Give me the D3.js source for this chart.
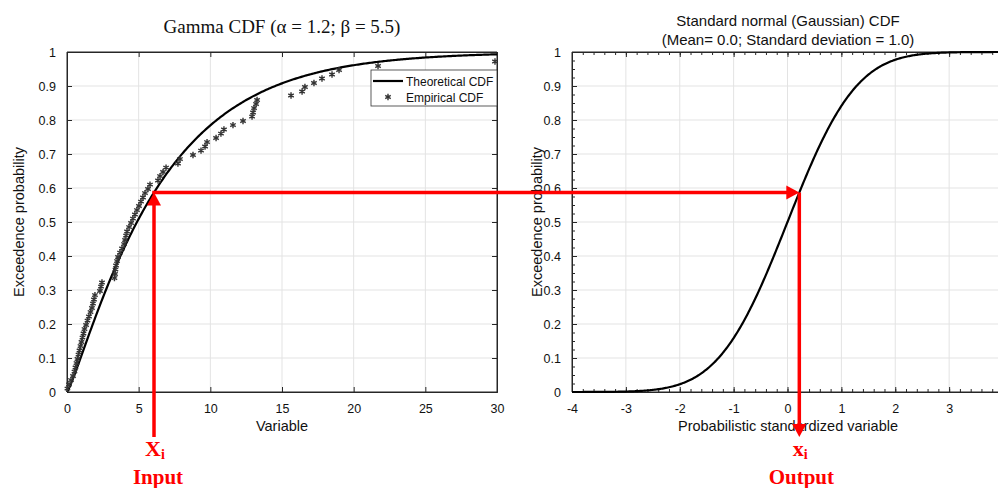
<!DOCTYPE html>
<html>
<head>
<meta charset="utf-8">
<script src="https://cdn.jsdelivr.net/npm/d3@7"></script>
<style>
  html, body { margin: 0; padding: 0; background: #fff; }
  svg { display: block; font-family: "Liberation Sans", Arial, sans-serif; }
</style>
</head>
<body>
<svg id="chart" width="998" height="488"></svg>
<script>
// Distribution parameters shown in the titles
const gammaAlpha = 1.2;
const gammaBeta = 5.5;
const normalMean = 0.0;
const normalSd = 1.0;

// Sample (empirical CDF) values: variable and plotting probability
const empiricalX = [
  0.03, 0.14, 0.28, 0.42, 0.52, 0.59, 0.66, 0.73, 0.80, 0.87,
  0.94, 1.01, 1.08, 1.15, 1.22, 1.33, 1.43, 1.53, 1.64, 1.74,
  1.81, 1.88, 1.95, 2.30, 2.37, 2.44, 3.31, 3.35, 3.38, 3.42,
  3.49, 3.56, 3.70, 3.84, 3.98, 4.05, 4.12, 4.19, 4.33, 4.47,
  4.60, 4.74, 4.88, 5.02, 5.16, 5.30, 5.44, 5.65, 5.79, 6.35,
  6.49, 6.70, 6.91, 7.74, 7.88, 8.79, 9.35, 9.63, 9.77, 10.40,
  10.74, 10.95, 11.58, 12.28, 12.91, 12.98, 13.05, 13.19, 13.26, 15.63,
  16.40, 16.60, 17.23, 17.79, 18.49, 18.98, 21.70, 29.86
];
const empiricalP = [
  0.010, 0.022, 0.035, 0.047, 0.060, 0.072, 0.085, 0.097, 0.110, 0.122,
  0.135, 0.147, 0.160, 0.172, 0.185, 0.197, 0.210, 0.222, 0.235, 0.247,
  0.260, 0.272, 0.285, 0.297, 0.310, 0.322, 0.335, 0.347, 0.360, 0.372,
  0.385, 0.397, 0.410, 0.422, 0.435, 0.447, 0.460, 0.472, 0.485, 0.497,
  0.510, 0.522, 0.535, 0.547, 0.560, 0.572, 0.585, 0.597, 0.610, 0.622,
  0.635, 0.647, 0.660, 0.672, 0.685, 0.697, 0.710, 0.722, 0.735, 0.747,
  0.760, 0.772, 0.785, 0.797, 0.810, 0.822, 0.835, 0.847, 0.859, 0.872,
  0.884, 0.897, 0.909, 0.922, 0.934, 0.947, 0.959, 0.972
];

// Tick values and labels
const gammaXTicks = [0, 5, 10, 15, 20, 25, 30];
const normalXTicks = [-4, -3, -2, -1, 0, 1, 2, 3, 4];
const normalXLabels = ["-4", "-3", "-2", "-1", "0", "1", "2", "3", ""];
const probTicks = [0, 0.1, 0.2, 0.3, 0.4, 0.5, 0.6, 0.7, 0.8, 0.9, 1];
const probLabels = ["0", "0.1", "0.2", "0.3", "0.4", "0.5", "0.6", "0.7", "0.8", "0.9", "1"];

// Transformation example: input value on the gamma variable
const inputValue = 6.07;

// ---- distribution functions ----
function logGamma(z) {
  const g = 7;
  const c = [0.99999999999980993, 676.5203681218851, -1259.1392167224028,
    771.32342877765313, -176.61502916214059, 12.507343278686905,
    -0.13857109526572012, 9.9843695780195716e-6, 1.5056327351493116e-7];
  z -= 1;
  let x = c[0];
  for (let i = 1; i < g + 2; i++) x += c[i] / (z + i);
  const t = z + g + 0.5;
  return 0.5 * Math.log(2 * Math.PI) + (z + 0.5) * Math.log(t) - t + Math.log(x);
}
function gammaCdf(x, a, b) {
  if (x <= 0) return 0;
  const u = x / b;
  let term = 1 / a, sum = term;
  for (let n = 1; n < 500; n++) {
    term *= u / (a + n);
    sum += term;
    if (term < sum * 1e-12) break;
  }
  return Math.min(1, sum * Math.exp(-u + a * Math.log(u) - logGamma(a)));
}
function erf(x) {
  const s = Math.sign(x); x = Math.abs(x);
  const t = 1 / (1 + 0.3275911 * x);
  const y = 1 - (((((1.061405429 * t - 1.453152027) * t) + 1.421413741) * t - 0.284496736) * t + 0.254829592) * t * Math.exp(-x * x);
  return s * y;
}
function normalCdf(z) {
  return 0.5 * (1 + erf((z - normalMean) / (normalSd * Math.SQRT2)));
}
function normalInv(p) {
  let lo = -10, hi = 10;
  for (let i = 0; i < 80; i++) {
    const mid = (lo + hi) / 2;
    if (normalCdf(mid) < p) lo = mid; else hi = mid;
  }
  return (lo + hi) / 2;
}

// ---- layout ----
const svg = d3.select("#chart");
const axisColor = "#262626";
const gridColor = "#e3e3e3";
const red = "#ff0000";

const L = { left: 67, right: 497, top: 52, bottom: 392 };
const R = { left: 572, right: 1003, top: 52, bottom: 392 };

const xG = d3.scaleLinear().domain([0, 30]).range([L.left, L.right]);
const yG = d3.scaleLinear().domain([0, 1]).range([L.bottom, L.top]);
const xN = d3.scaleLinear().domain([-4, 4]).range([R.left, R.right]);
const yN = d3.scaleLinear().domain([0, 1]).range([R.bottom, R.top]);

const fmtP = (d, i) => probLabels[i];

function panel(box, xs, ys, xTicks, xFmt, minor) {
  const g = svg.append("g");
  // grid
  g.append("g").selectAll("line").data(xTicks.filter(v => xs(v) > box.left && xs(v) < box.right))
    .join("line").attr("x1", d => xs(d)).attr("x2", d => xs(d))
    .attr("y1", box.top).attr("y2", box.bottom)
    .attr("stroke", gridColor).attr("stroke-width", 1);
  g.append("g").selectAll("line").data(probTicks.filter(v => v > 0 && v < 1))
    .join("line").attr("x1", box.left).attr("x2", box.right)
    .attr("y1", d => ys(d)).attr("y2", d => ys(d))
    .attr("stroke", gridColor).attr("stroke-width", 1);

  // axes with inward ticks on every side
  const tl = -5;
  g.append("g").attr("transform", `translate(0,${box.bottom})`)
    .call(d3.axisBottom(xs).tickValues(xTicks).tickSize(tl).tickPadding(12).tickFormat(xFmt));
  g.append("g").attr("transform", `translate(0,${box.top})`)
    .call(d3.axisTop(xs).tickValues(xTicks).tickSize(tl).tickFormat(""));
  g.append("g").attr("transform", `translate(${box.left},0)`)
    .call(d3.axisLeft(ys).tickValues(probTicks).tickSize(tl).tickPadding(11).tickFormat(fmtP));
  g.append("g").attr("transform", `translate(${box.right},0)`)
    .call(d3.axisRight(ys).tickValues(probTicks).tickSize(tl).tickFormat(""));

  if (minor) {
    const mx = d3.range(-4, 4.001, 0.2).map(v => Math.round(v * 10) / 10);
    const my = d3.range(0, 1.0001, 0.025);
    g.append("g").attr("transform", `translate(0,${box.bottom})`)
      .call(d3.axisBottom(xs).tickValues(mx).tickSize(-3).tickFormat(""));
    g.append("g").attr("transform", `translate(0,${box.top})`)
      .call(d3.axisTop(xs).tickValues(mx).tickSize(-3).tickFormat(""));
    g.append("g").attr("transform", `translate(${box.left},0)`)
      .call(d3.axisLeft(ys).tickValues(my).tickSize(-3).tickFormat(""));
  }

  g.selectAll(".domain").attr("stroke", axisColor).attr("stroke-width", 1);
  g.selectAll(".tick line").attr("stroke", axisColor);
  g.selectAll(".tick text").attr("fill", "#111").style("font-size", "12.5px")
    .style("font-family", "'Liberation Sans', Arial, sans-serif");
  // close the frame
  g.append("path")
    .attr("d", `M${box.left},${box.top}H${box.right}V${box.bottom}H${box.left}Z`)
    .attr("fill", "none").attr("stroke", axisColor).attr("stroke-width", 1);
  return g;
}

panel(L, xG, yG, gammaXTicks, d => String(d), false);
panel(R, xN, yN, normalXTicks, (d, i) => normalXLabels[i], true);

// ---- left: gamma CDF ----
const gammaLine = d3.line().x(d => xG(d)).y(d => yG(gammaCdf(d, gammaAlpha, gammaBeta)));
svg.append("path")
  .datum(d3.range(0, 30.0001, 0.1))
  .attr("d", gammaLine)
  .attr("fill", "none").attr("stroke", "#000").attr("stroke-width", 2.2);

const star = d3.symbol().type(d3.symbolAsterisk).size(28);
svg.append("g").selectAll("path")
  .data(empiricalX.map((x, i) => ({ x, p: empiricalP[i] })))
  .join("path")
  .attr("d", star)
  .attr("transform", d => `translate(${xG(d.x)},${yG(d.p)})`)
  .attr("fill", "none").attr("stroke", "#333").attr("stroke-width", 1.4);

// legend
const lg = svg.append("g");
lg.append("rect").attr("x", 371).attr("y", 70).attr("width", 126).attr("height", 36)
  .attr("fill", "#fff").attr("stroke", "#333").attr("stroke-width", 0.8);
lg.append("line").attr("x1", 373).attr("x2", 403).attr("y1", 81).attr("y2", 81)
  .attr("stroke", "#000").attr("stroke-width", 2.2);
lg.append("path").attr("d", star).attr("transform", "translate(388,97)")
  .attr("fill", "none").attr("stroke", "#333").attr("stroke-width", 1.4);
lg.append("text").attr("x", 406).attr("y", 85.5).text("Theoretical CDF")
  .style("font-size", "12px").attr("fill", "#111");
lg.append("text").attr("x", 406).attr("y", 101.5).text("Empirical CDF")
  .style("font-size", "12px").attr("fill", "#111");

// ---- right: standard normal CDF ----
const normLine = d3.line().x(d => xN(d)).y(d => yN(normalCdf(d)));
svg.append("path")
  .datum(d3.range(-4, 4.0001, 0.02))
  .attr("d", normLine)
  .attr("fill", "none").attr("stroke", "#000").attr("stroke-width", 2.2);

// ---- titles and axis labels ----
svg.append("text").attr("x", (L.left + L.right) / 2).attr("y", 33)
  .attr("text-anchor", "middle")
  .style("font-family", "'Liberation Serif', 'Times New Roman', serif").style("font-size", "19px")
  .attr("fill", "#111").text("Gamma CDF (α = 1.2; β = 5.5)");
svg.append("text").attr("x", 788).attr("y", 26).attr("text-anchor", "middle")
  .style("font-size", "15px").attr("fill", "#111").text("Standard normal (Gaussian) CDF");
svg.append("text").attr("x", 788).attr("y", 45).attr("text-anchor", "middle")
  .style("font-size", "15px").attr("fill", "#111").text("(Mean= 0.0; Standard deviation = 1.0)");

svg.append("text").attr("x", (L.left + L.right) / 2).attr("y", 431).attr("text-anchor", "middle")
  .style("font-size", "14.5px").attr("fill", "#111").text("Variable");
svg.append("text").attr("x", 788).attr("y", 431).attr("text-anchor", "middle")
  .style("font-size", "14.5px").attr("fill", "#111").text("Probabilistic standardized variable");
svg.append("text").attr("transform", `translate(24,${(L.top + L.bottom) / 2}) rotate(-90)`)
  .attr("text-anchor", "middle").style("font-size", "14.5px").attr("fill", "#111")
  .text("Exceedence probability");
svg.append("text").attr("transform", `translate(542,${(R.top + R.bottom) / 2}) rotate(-90)`)
  .attr("text-anchor", "middle").style("font-size", "14.5px").attr("fill", "#111")
  .text("Exceedence probability");

// ---- transformation arrows ----
const prob = gammaCdf(inputValue, gammaAlpha, gammaBeta);
const outputValue = normalInv(prob);
const ax = xG(inputValue), ay = yG(prob), bx = xN(outputValue);
const arrowBase = 437, head = 13, half = 7;
const ar = svg.append("g");
ar.append("line").attr("x1", ax).attr("x2", ax).attr("y1", arrowBase).attr("y2", ay + head - 1)
  .attr("stroke", red).attr("stroke-width", 3.5);
ar.append("path").attr("d", `M${ax},${ay}L${ax - half},${ay + head}L${ax + half},${ay + head}Z`).attr("fill", red);
ar.append("line").attr("x1", ax - 1.75).attr("x2", bx - head + 1).attr("y1", ay).attr("y2", ay)
  .attr("stroke", red).attr("stroke-width", 3.5);
ar.append("path").attr("d", `M${bx},${ay}L${bx - head},${ay - half}L${bx - head},${ay + half}Z`).attr("fill", red);
ar.append("line").attr("x1", bx).attr("x2", bx).attr("y1", ay).attr("y2", arrowBase - head + 1)
  .attr("stroke", red).attr("stroke-width", 3.5);
ar.append("path").attr("d", `M${bx},${arrowBase}L${bx - half},${arrowBase - head}L${bx + half},${arrowBase - head}Z`).attr("fill", red);

const serif = "'Liberation Serif', 'Times New Roman', serif";
const lab1 = svg.append("text").attr("x", ax + 1).attr("y", 456).attr("text-anchor", "middle")
  .style("font-family", serif).style("font-weight", "bold").style("font-size", "22px").attr("fill", red);
lab1.append("tspan").text("X");
lab1.append("tspan").attr("dy", 3).style("font-size", "14px").text("i");
svg.append("text").attr("x", ax + 4).attr("y", 484).attr("text-anchor", "middle")
  .style("font-family", serif).style("font-weight", "bold").style("font-size", "21px").attr("fill", red)
  .text("Input");
const lab2 = svg.append("text").attr("x", bx + 1).attr("y", 456).attr("text-anchor", "middle")
  .style("font-family", serif).style("font-weight", "bold").style("font-size", "22px").attr("fill", red);
lab2.append("tspan").text("x");
lab2.append("tspan").attr("dy", 3).style("font-size", "14px").text("i");
svg.append("text").attr("x", bx + 2).attr("y", 484).attr("text-anchor", "middle")
  .style("font-family", serif).style("font-weight", "bold").style("font-size", "21px").attr("fill", red)
  .text("Output");
</script>
</body>
</html>
